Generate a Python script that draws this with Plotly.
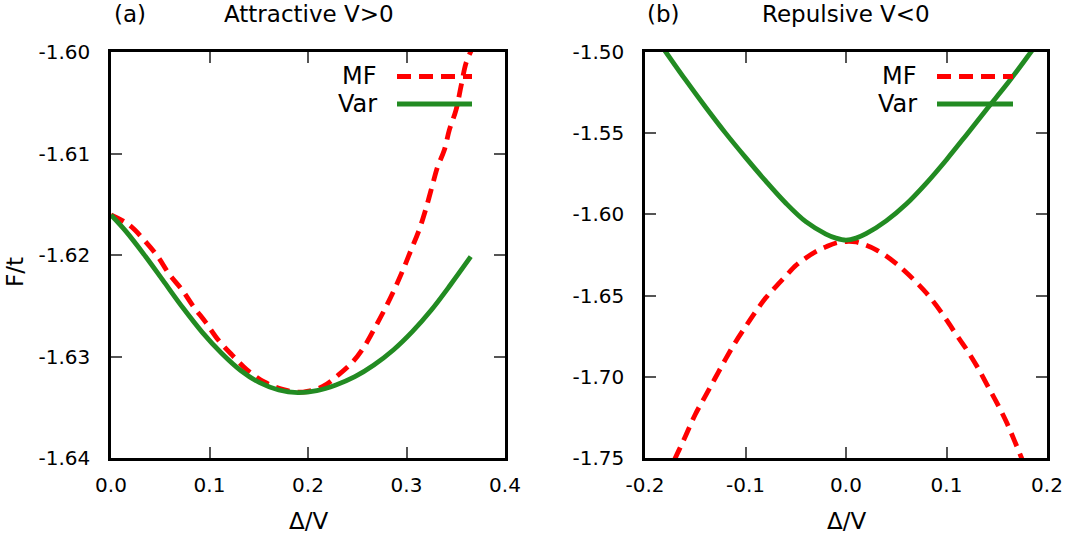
import plotly.graph_objects as go

# ---------------- data ----------------
# Panel (a): Attractive V>0
var_a_x = [0.0, 0.0154, 0.0347, 0.0540, 0.0734, 0.0927, 0.1123, 0.1317, 0.1510, 0.1703,
           0.1896, 0.2089, 0.2283, 0.2476, 0.2669, 0.2866, 0.3059, 0.3252, 0.3445, 0.3652]
var_a_y = [-1.61606, -1.61770, -1.62010, -1.62267, -1.62525, -1.62762, -1.62968, -1.63138,
           -1.63258, -1.63330, -1.63356, -1.63337, -1.63281, -1.63199, -1.63084, -1.62936,
           -1.62755, -1.62542, -1.62296, -1.62017]

mf_a_x = [0.0, 0.0180, 0.0344, 0.0475, 0.0589, 0.0720, 0.0835, 0.0966, 0.1081, 0.1228,
          0.1375, 0.1556, 0.1752, 0.1949, 0.2145, 0.2309, 0.2456, 0.2571, 0.2685, 0.2784,
          0.2882, 0.2964, 0.3046, 0.3128, 0.3193, 0.3259, 0.3316, 0.3384, 0.3435, 0.3503,
          0.3553, 0.3604, 0.3660]
mf_a_y = [-1.61606, -1.61701, -1.61861, -1.62016, -1.62186, -1.62341, -1.62505, -1.62669,
          -1.62827, -1.62984, -1.63126, -1.63251, -1.63327, -1.63350, -1.63297, -1.63182,
          -1.63051, -1.62903, -1.62706, -1.62525, -1.62328, -1.62148, -1.61951, -1.61754,
          -1.61557, -1.61327, -1.61130, -1.60966, -1.60768, -1.60570, -1.60340, -1.60110,
          -1.59980]

# Panel (b): Repulsive V<0
var_b_x = [-0.19, -0.18, -0.16, -0.14, -0.12, -0.10, -0.08, -0.06, -0.04, -0.02, -0.01,
           0.0, 0.01, 0.02, 0.04, 0.06, 0.08, 0.10, 0.12, 0.14, 0.16, 0.18, 0.19]
var_b_y = [-1.4907, -1.4994, -1.5169, -1.5337, -1.5498, -1.5649, -1.5794, -1.5930,
           -1.6045, -1.6121, -1.6146, -1.6158, -1.6146, -1.6119, -1.6040, -1.5936,
           -1.5807, -1.5663, -1.5509, -1.5352, -1.5199, -1.5034, -1.4949]

mf_b_x = [-0.18, -0.17, -0.16, -0.15, -0.14, -0.13, -0.12, -0.11, -0.10, -0.09, -0.08,
          -0.07, -0.06, -0.05, -0.04, -0.03, -0.02, -0.01, 0.0, 0.01, 0.02, 0.03, 0.04,
          0.05, 0.06, 0.07, 0.08, 0.09, 0.10, 0.11, 0.12, 0.13, 0.14, 0.15, 0.16, 0.17, 0.18]
mf_b_y = [-1.7636, -1.7502, -1.7369, -1.7232, -1.7119, -1.7006, -1.6893, -1.6787,
          -1.6692, -1.6600, -1.6515, -1.6446, -1.6380, -1.6315, -1.6268, -1.6229,
          -1.6200, -1.6176, -1.6167, -1.6170, -1.6190, -1.6218, -1.6256, -1.6303,
          -1.6358, -1.6418, -1.6484, -1.6562, -1.6650, -1.6742, -1.6832, -1.6932,
          -1.7045, -1.7159, -1.7283, -1.7429, -1.7580]

# tick values / labels
xa_ticks = [0.0, 0.1, 0.2, 0.3, 0.4]
xa_labels = ["0.0", "0.1", "0.2", "0.3", "0.4"]
ya_ticks = [-1.64, -1.63, -1.62, -1.61, -1.60]
ya_labels = ["-1.64", "-1.63", "-1.62", "-1.61", "-1.60"]
xb_ticks = [-0.2, -0.1, 0.0, 0.1, 0.2]
xb_labels = ["-0.2", "-0.1", "0.0", "0.1", "0.2"]
yb_ticks = [-1.75, -1.70, -1.65, -1.60, -1.55, -1.50]
yb_labels = ["-1.75", "-1.70", "-1.65", "-1.60", "-1.55", "-1.50"]

series_names = ["MF", "Var"]
panel_titles = ["Attractive V&gt;0", "Repulsive V&lt;0"]
panel_tags = ["(a)", "(b)"]

# ---------------- styling ----------------
W, H = 1069, 538
RED = "#ff0000"
GREEN = "#228b22"
FONT = "DejaVu Sans"
DASH = "14px,8px"
LW = 4.8


def fx(p):
    return p / W


def fy(p):
    return 1 - p / H


fig = go.Figure()

fig.add_trace(go.Scatter(x=mf_a_x, y=mf_a_y, mode="lines", name="MF",
                         line=dict(color=RED, width=LW, dash=DASH, shape="spline"),
                         xaxis="x", yaxis="y", showlegend=False))
fig.add_trace(go.Scatter(x=var_a_x, y=var_a_y, mode="lines", name="Var",
                         line=dict(color=GREEN, width=LW, shape="spline"),
                         xaxis="x", yaxis="y", showlegend=False))
fig.add_trace(go.Scatter(x=mf_b_x, y=mf_b_y, mode="lines", name="MF",
                         line=dict(color=RED, width=LW, dash=DASH, shape="spline"),
                         xaxis="x2", yaxis="y2", showlegend=False))
fig.add_trace(go.Scatter(x=var_b_x, y=var_b_y, mode="lines", name="Var",
                         line=dict(color=GREEN, width=LW, shape="spline"),
                         xaxis="x2", yaxis="y2", showlegend=False))

ydom = [fy(458), fy(52)]
common = dict(showline=True, linecolor="black", linewidth=2.5, mirror="ticks",
              ticks="inside", ticklen=11, tickwidth=1.5, tickcolor="#555555",
              showgrid=False, zeroline=False, automargin=False,
              tickfont=dict(family=FONT, size=20, color="black"))

fig.update_layout(
    width=W, height=H,
    margin=dict(l=0, r=0, t=0, b=0, autoexpand=False),
    paper_bgcolor="white", plot_bgcolor="white",
    showlegend=False,
    xaxis=dict(domain=[fx(111), fx(505)], range=[0, 0.4], tickvals=xa_ticks,
               ticktext=xa_labels, anchor="y", ticklabelstandoff=7, **common),
    yaxis=dict(domain=ydom, range=[-1.64, -1.60], tickvals=ya_ticks,
               ticktext=ya_labels, anchor="x", ticklabelstandoff=14, **common),
    xaxis2=dict(domain=[fx(645), fx(1047)], range=[-0.2, 0.2], tickvals=xb_ticks,
                ticktext=xb_labels, anchor="y2", ticklabelstandoff=7, **common),
    yaxis2=dict(domain=ydom, range=[-1.75, -1.50], tickvals=yb_ticks,
                ticktext=yb_labels, anchor="x2", ticklabelstandoff=14, **common),
)

ann = []
# panel tags and titles
for tag, title, tx, cx in zip(panel_tags, panel_titles, [112, 645], [309, 846]):
    ann.append(dict(x=fx(tx), y=fy(14), xref="paper", yref="paper", text=tag,
                    showarrow=False, xanchor="left", yanchor="middle",
                    font=dict(family=FONT, size=23, color="black")))
    ann.append(dict(x=fx(cx), y=fy(14), xref="paper", yref="paper", text=title,
                    showarrow=False, xanchor="center", yanchor="middle",
                    font=dict(family=FONT, size=23, color="black")))
# axis titles
for cx in [308, 846]:
    ann.append(dict(x=fx(cx), y=fy(521), xref="paper", yref="paper", text="Δ/V",
                    showarrow=False, xanchor="center", yanchor="middle",
                    font=dict(family=FONT, size=23, color="black")))
ann.append(dict(x=fx(15), y=fy(272), xref="paper", yref="paper", text="F/t",
                showarrow=False, xanchor="center", yanchor="middle", textangle=-90,
                font=dict(family=FONT, size=23, color="black")))

# legends (text right-aligned, sample line on the right, gnuplot style)
shapes = []
for text_right, s0, s1 in [(379, 397, 472), (919, 937, 1013)]:
    for name, ypix, col, dash in [(series_names[0], 76.5, RED, DASH),
                                  (series_names[1], 104, GREEN, "solid")]:
        ann.append(dict(x=fx(text_right), y=fy(ypix), xref="paper", yref="paper",
                        text=name, showarrow=False, xanchor="right", yanchor="middle",
                        font=dict(family=FONT, size=24, color="black")))
        shapes.append(dict(type="line", xref="paper", yref="paper",
                           x0=fx(s0), x1=fx(s1), y0=fy(ypix), y1=fy(ypix),
                           line=dict(color=col, width=LW, dash=dash)))

fig.update_layout(annotations=ann, shapes=shapes)

fig.write_html("out.html",
               config={"displayModeBar": False},
               post_script="document.body.style.margin='0px';"
                           "document.body.style.overflow='hidden';")
